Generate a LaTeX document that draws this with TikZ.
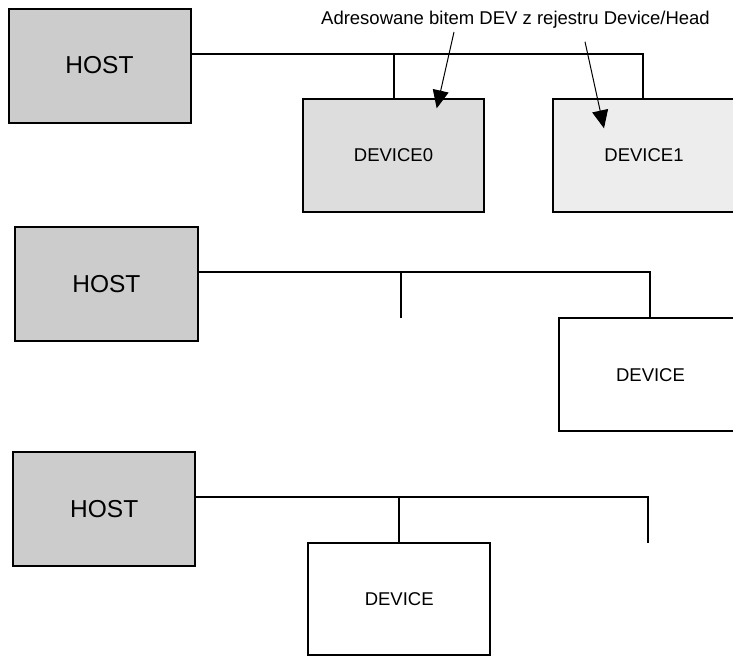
\documentclass[tikz,border=0pt]{standalone}
\usepackage{fontspec}
\setmainfont{Liberation Sans}
\usetikzlibrary{arrows.meta}
\definecolor{hostgray}{RGB}{204,204,204}
\definecolor{dev0gray}{RGB}{221,221,221}
\definecolor{dev1gray}{RGB}{237,237,237}
\tikzset{
  box/.style={draw=black, line width=2pt, inner sep=0pt},
  hostbox/.style={box, fill=hostgray, font=\fontsize{24.5}{28}\selectfont},
  devbox/.style={box, fill=white, font=\fontsize{18.5}{22}\selectfont},
  bus/.style={line width=2pt},
  pointer/.style={line width=1pt, -{Triangle[length=18pt,width=16pt]}},
}
\begin{document}
\begin{tikzpicture}[x=1pt,y=-1pt]
\path[use as bounding box] (0,0) rectangle (733,657);
\clip (0,0) rectangle (733,657);

% ---------- row 1 ----------
\node[hostbox, minimum width=182pt, minimum height=114pt] (host1) at (99.5,65.5) {HOST};
\node[devbox, fill=dev0gray, minimum width=181pt, minimum height=113pt] (dev0) at (393.5,155.4) {DEVICE0};
\node[devbox, fill=dev1gray, minimum width=182pt, minimum height=113pt] (dev1) at (644,155.4) {DEVICE1};
\coordinate (b1) at (643,54);
\coordinate (t1) at (394,54);
\draw[bus] (host1.east |- b1) -- (b1) -- (b1 |- dev1.north);
\draw[bus] (t1) -- (t1 |- dev0.north);

\node[font=\fontsize{18.5}{22}\selectfont, inner sep=0pt] (lbl) at (515.5,20) {Adresowane bitem DEV z rejestru Device/Head};
\coordinate (a1s) at (454,32);
\coordinate (a1e) at (436.7,108.3);
\coordinate (a2s) at (585,41.7);
\coordinate (a2e) at (604,128.3);
\draw[pointer] (a1s) -- (a1e);
\draw[pointer] (a2s) -- (a2e);

% ---------- row 2 ----------
\node[hostbox, minimum width=182.7pt, minimum height=113.4pt] (host2) at (106.4,284) {HOST};
\node[devbox, minimum width=183pt, minimum height=113.5pt] (dev2) at (650.5,374.7) {DEVICE};
\coordinate (b2) at (650,272.3);
\coordinate (s2) at (400.6,272.3);
\coordinate (s2e) at (400.6,318);
\draw[bus] (host2.east |- b2) -- (b2) -- (b2 |- dev2.north);
\draw[bus] (s2) -- (s2e);

% ---------- row 3 ----------
\node[hostbox, minimum width=182.4pt, minimum height=114pt] (host3) at (104.2,508.7) {HOST};
\node[devbox, minimum width=181.6pt, minimum height=112.3pt] (dev3) at (399.2,598.9) {DEVICE};
\coordinate (b3) at (648,497.3);
\coordinate (b3e) at (648,543);
\coordinate (t3) at (399.2,497.3);
\draw[bus] (host3.east |- b3) -- (b3) -- (b3e);
\draw[bus] (t3) -- (dev3.north);
\end{tikzpicture}
\end{document}
